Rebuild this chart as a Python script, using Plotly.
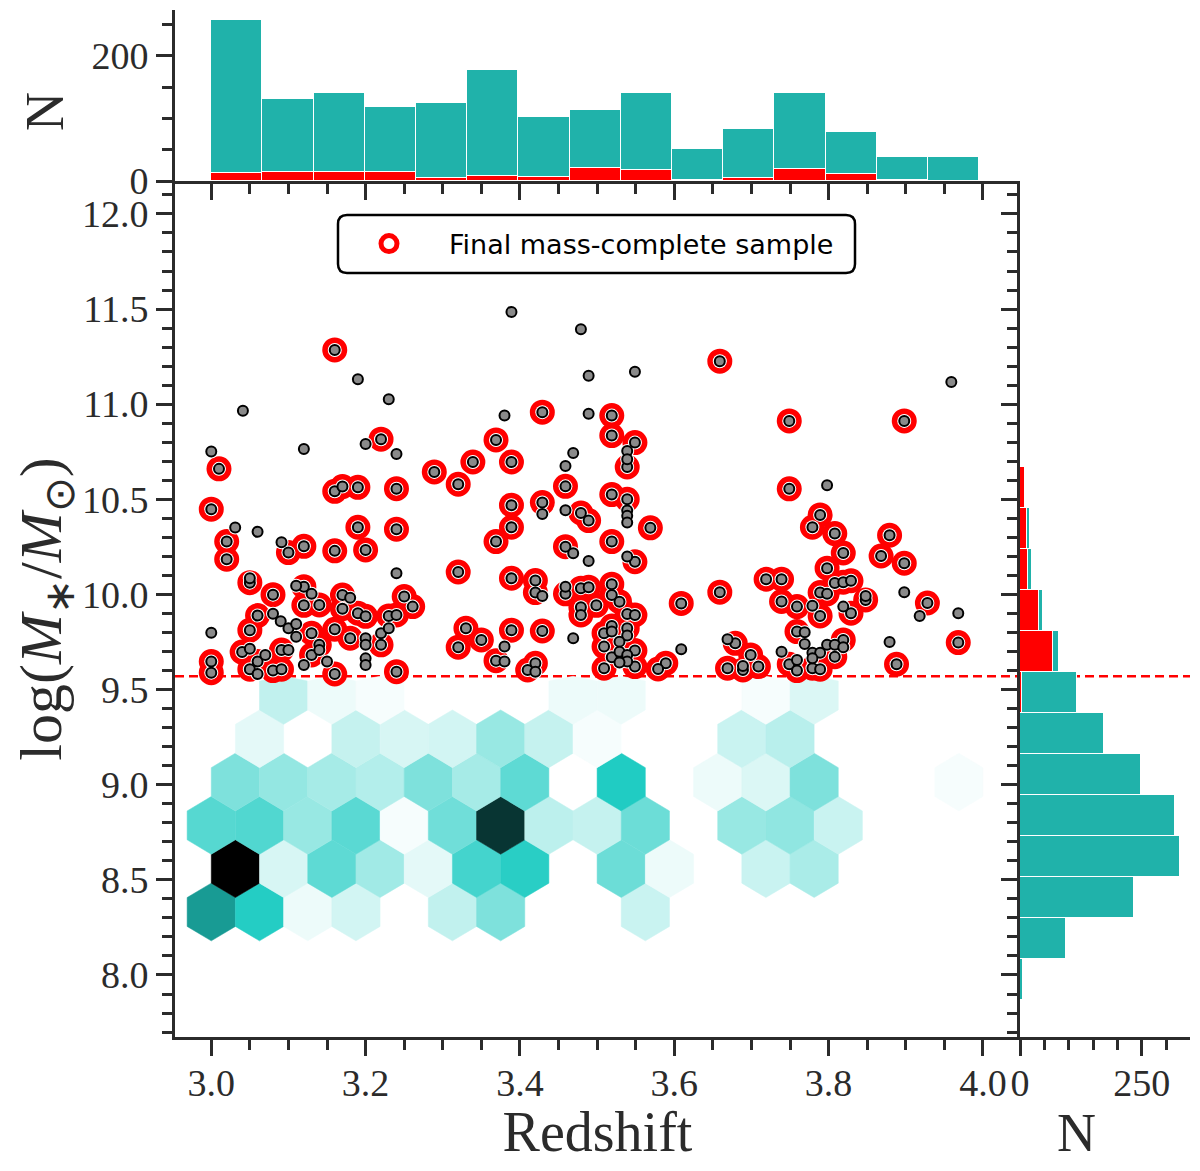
import numpy as np
import plotly.graph_objects as go
from plotly.colors import sample_colorscale

# Galaxies in the final mass-complete sample (red rings)
final_z = [3.160, 3.429, 3.519, 3.519, 3.220, 3.369, 3.010, 3.339, 3.389, 3.289,
           3.320, 3.459, 3.160, 3.170, 3.190, 3.240, 3.389, 3.429, 3.479, 3.489,
           3.519, 3.000, 3.020, 3.020, 3.100, 3.120, 3.160, 3.190, 3.200, 3.240,
           3.389, 3.369, 3.459, 3.519, 3.320, 3.050, 3.080, 3.120, 3.120, 3.140,
           3.170, 3.170, 3.190, 3.200, 3.250, 3.261, 3.230, 3.240, 3.060, 3.050,
           3.130, 3.160, 3.180, 3.220, 3.330, 3.350, 3.320, 3.389, 3.429, 3.509,
           3.519, 3.509, 3.519, 3.509, 3.459, 3.479, 3.489, 3.479, 3.479, 3.499,
           3.519, 3.519, 3.420, 3.420, 3.389, 3.000, 3.000, 3.040, 3.060, 3.050,
           3.080, 3.091, 3.091, 3.130, 3.140, 3.160, 3.240, 3.369, 3.410, 3.420,
           3.659, 3.549, 3.539, 3.749, 3.898, 3.539, 3.569, 3.549, 3.749, 3.789,
           3.779, 3.808, 3.879, 3.819, 3.868, 3.898, 3.798, 3.808, 3.819, 3.829,
           3.719, 3.739, 3.789, 3.798, 3.848, 3.928, 3.968, 3.888, 3.739, 3.759,
           3.789, 3.829, 3.759, 3.819, 3.808, 3.749, 3.759, 3.779, 3.789, 3.609,
           3.659, 3.679, 3.699, 3.669, 3.689, 3.709, 3.589, 3.579, 3.529, 3.539,
           3.549, 3.539, 3.549, 3.549]
final_mass = [11.285, 10.958, 10.940, 10.835, 10.816, 10.812, 10.660, 10.696, 10.696, 10.644,
              10.579, 10.568, 10.542, 10.567, 10.563, 10.556, 10.469, 10.483, 10.428, 10.388,
              10.525, 10.448, 10.278, 10.185, 10.220, 10.253, 10.229, 10.353, 10.234, 10.343,
              10.353, 10.278, 10.251, 10.278, 10.118, 10.062, 9.999, 10.041, 9.943, 9.945,
              9.997, 9.925, 9.901, 9.885, 9.989, 9.936, 9.887, 9.892, 9.889, 9.812,
              9.796, 9.817, 9.770, 9.735, 9.822, 9.761, 9.723, 9.812, 9.808, 9.796,
              9.834, 9.726, 9.670, 9.612, 10.003, 10.033, 10.038, 9.933, 9.892, 9.943,
              10.054, 9.997, 10.073, 10.010, 10.085, 9.647, 9.589, 9.697, 9.647, 9.607,
              9.600, 9.708, 9.607, 9.682, 9.735, 9.582, 9.594, 9.652, 9.603, 9.638,
              11.226, 10.798, 10.670, 10.912, 10.912, 10.500, 10.350, 10.172, 10.555, 10.418,
              10.353, 10.320, 10.311, 10.218, 10.202, 10.164, 10.138, 10.060, 10.064, 10.072,
              10.080, 10.080, 10.010, 10.003, 9.971, 9.955, 9.747, 9.633, 9.963, 9.936,
              9.887, 9.901, 9.805, 9.761, 9.673, 9.633, 9.600, 9.612, 9.607, 9.953,
              10.012, 9.743, 9.682, 9.612, 9.603, 9.621, 9.638, 9.608, 9.962, 9.897,
              9.892, 9.822, 9.705, 9.621]

# Other galaxies above the limit (grey points only)
other_z = [3.389, 3.479, 3.190, 3.489, 3.230, 3.041, 3.380, 3.489, 3.200, 3.000,
           3.120, 3.240, 3.469, 3.459, 3.429, 3.459, 3.031, 3.060, 3.091, 3.469,
           3.489, 3.240, 3.050, 3.110, 3.130, 3.180, 3.080, 3.090, 3.100, 3.110,
           3.110, 3.200, 3.200, 3.220, 3.230, 3.000, 3.380, 3.469, 3.459, 3.429,
           3.050, 3.070, 3.060, 3.100, 3.120, 3.140, 3.150, 3.200, 3.200, 3.380,
           3.420, 3.549, 3.959, 3.539, 3.539, 3.539, 3.539, 3.539, 3.539, 3.798,
           3.848, 3.898, 3.918, 3.968, 3.879, 3.779, 3.819, 3.769, 3.769, 3.779,
           3.789, 3.798, 3.808, 3.819, 3.739, 3.759, 3.779, 3.609, 3.669, 3.689,
           3.519, 3.539, 3.529, 3.529, 3.539, 3.539, 3.529]
other_mass = [11.485, 11.394, 11.131, 11.150, 11.026, 10.966, 10.940, 10.950, 10.791, 10.751,
              10.765, 10.738, 10.744, 10.675, 10.423, 10.443, 10.352, 10.329, 10.274, 10.216,
              10.176, 10.111, 10.085, 10.046, 10.003, 9.983, 9.899, 9.859, 9.822, 9.845,
              9.778, 9.770, 9.735, 9.796, 9.822, 9.799, 9.726, 9.770, 10.041, 9.992,
              9.715, 9.682, 9.582, 9.708, 9.629, 9.708, 9.647, 9.664, 9.629, 9.647,
              9.594, 11.171, 11.117, 10.754, 10.710, 10.441, 10.413, 10.378, 10.199, 10.574,
              9.992, 10.012, 9.887, 9.901, 9.750, 9.940, 9.936, 9.801, 9.740, 9.694,
              9.694, 9.735, 9.735, 9.723, 9.699, 9.656, 9.664, 9.712, 9.765, 9.624,
              9.805, 9.784, 9.752, 9.699, 9.682, 9.647, 9.642]

mass_limit = 9.57

# hexbin cells below the mass limit (row, column in the hex grid, counts)
hex_row = [0] * 7 + [1] * 11 + [2] * 13 + [3] * 12 + [4] * 9 + [5] * 7
hex_col = [0, 1, 2, 3, 5, 6, 9,
           0, 1, 2, 3, 4, 5, 6, 8, 9, 11, 12,
           0, 1, 2, 3, 4, 5, 6, 7, 8, 9, 11, 12, 13,
           0, 1, 2, 3, 4, 5, 6, 8, 10, 11, 12, 15,
           1, 3, 4, 5, 6, 7, 8, 11, 12,
           1, 2, 3, 7, 8, 11, 12]
hex_count = [62, 49, 4, 10, 14, 29, 12,
             100, 9, 36, 21, 6, 42, 48, 33, 4, 12, 19,
             38, 39, 23, 37, 2, 32, 87, 15, 13, 33, 23, 25, 12,
             29, 24, 20, 17, 29, 20, 36, 50, 4, 8, 29, 2,
             6, 13, 9, 10, 23, 13, 2, 12, 16,
             14, 4, 2, 4, 4, 2, 8]
hex_x0, hex_dx = 3.0, 0.0625
hex_y0, hex_dy = 8.331, 0.2276

# redshift histogram
z_edges = np.linspace(3.0, 3.995, 16)
n_z_all = [257, 131, 141, 118, 125, 178, 102, 113, 140, 51, 83, 140, 78, 38, 38]
n_z_final = [12, 14, 14, 14, 4, 8, 7, 21, 17, 2, 4, 19, 11, 2, 0]

# mass histogram
m_edges = np.linspace(7.869, 11.1015, 16)
n_m_all = [6, 94, 233, 328, 319, 248, 172, 118, 80, 47, 25, 20, 10, 3, 0]
n_m_final = [0, 0, 0, 0, 0, 0, 0, 5, 68, 38, 17, 14, 10, 3, 0]

teal = '#20b2aa'
ink = '#2b2b2b'
serif = 'Liberation Serif'

# the page adds an 8px body margin, so the figure is a little smaller than the window
W, H = 1184, 1155


def fx(px):
    return (px - 8) / W


def fy(py):
    return 1 - (py - 8) / H


fig = go.Figure()

# hexbin
cmap = [[0, '#ffffff'], [0.5, '#20ccc3'], [1, '#000000']]
hex_colors = sample_colorscale(cmap, [n / max(hex_count) for n in hex_count])
for r, c, col in zip(hex_row, hex_col, hex_colors):
    cx = hex_x0 + (c + 0.5 * (r % 2)) * hex_dx
    cy = hex_y0 + r * hex_dy
    vx = cx + hex_dx * np.array([0.5, 0.5, 0, -0.5, -0.5, 0, 0.5])
    vy = cy + 2 * hex_dy * np.array([-1/6, 1/6, 1/3, 1/6, -1/6, -1/3, -1/6])
    vy = np.minimum(vy, mass_limit)
    fig.add_trace(go.Scatter(x=vx, y=vy, mode='lines', fill='toself', fillcolor=col,
                             line=dict(color=col, width=0.5), hoverinfo='skip',
                             showlegend=False))

all_z = final_z + other_z
all_mass = final_mass + other_mass

fig.add_trace(go.Scatter(x=final_z, y=final_mass, mode='markers',
                         name='Final mass-complete sample',
                         marker=dict(symbol='circle-open', size=19, color='red',
                                     line=dict(color='red', width=6))))
fig.add_trace(go.Scatter(x=all_z, y=all_mass, mode='markers', showlegend=False,
                         marker=dict(size=14, color='white', line=dict(width=0))))
fig.add_trace(go.Scatter(x=all_z, y=all_mass, mode='markers', showlegend=False,
                         marker=dict(size=10, color='#8a8a8a', line=dict(color='black', width=2))))

# top histogram (stacked: final sample + rest)
z_c = 0.5 * (z_edges[1:] + z_edges[:-1])
z_w = z_edges[1] - z_edges[0]
fig.add_trace(go.Bar(x=z_c, y=n_z_final, width=z_w, xaxis='x2', yaxis='y2', showlegend=False,
                     marker=dict(color='red', line=dict(color='white', width=1.5))))
fig.add_trace(go.Bar(x=z_c, y=np.array(n_z_all) - np.array(n_z_final), width=z_w,
                     xaxis='x2', yaxis='y2', showlegend=False,
                     marker=dict(color=teal, line=dict(color='white', width=1.5))))

# right histogram
m_c = 0.5 * (m_edges[1:] + m_edges[:-1])
m_w = m_edges[1] - m_edges[0]
fig.add_trace(go.Bar(y=m_c, x=n_m_final, width=m_w, orientation='h', xaxis='x3', yaxis='y3',
                     showlegend=False,
                     marker=dict(color='red', line=dict(color='white', width=1.5))))
fig.add_trace(go.Bar(y=m_c, x=np.array(n_m_all) - np.array(n_m_final), width=m_w,
                     orientation='h', xaxis='x3', yaxis='y3', showlegend=False,
                     marker=dict(color=teal, line=dict(color='white', width=1.5))))

# layout
xd_main = [fx(175), fx(1020)]
xd_right = [fx(1020), fx(1190)]
yd_main = [fy(1037), fy(181)]
yd_top = [fy(181), fy(10)]
z_range = [2.953, 4.048]
m_range = [7.674, 12.173]

tickfont = dict(family=serif, size=38, color=ink)


def axis(**kw):
    d = dict(showline=True, linecolor=ink, linewidth=3, ticks='outside', ticklen=16,
             tickwidth=3, tickcolor=ink, showgrid=False, zeroline=False,
             tickfont=tickfont, layer='above traces', automargin=False)
    d.update(kw)
    return d


minor_z = dict(dtick=0.05, ticks='outside', ticklen=10, tickwidth=2.5, tickcolor=ink)
minor_m = dict(dtick=0.1, ticks='outside', ticklen=10, tickwidth=2.5, tickcolor=ink)

fig.update_layout(
    width=W, height=H, autosize=False,
    margin=dict(l=0, r=0, t=0, b=0, autoexpand=False),
    paper_bgcolor='white', plot_bgcolor='white',
    barmode='stack', bargap=0,
    xaxis=axis(domain=xd_main, anchor='y', range=z_range, tick0=3.0, dtick=0.2,
               tickformat='.1f', minor=minor_z, ticklabelstandoff=-6,
               title=dict(text='Redshift', standoff=8,
                          font=dict(family=serif, size=56, color=ink))),
    yaxis=axis(domain=yd_main, anchor='x', range=m_range, tick0=8.0, dtick=0.5,
               tickformat='.1f', minor=minor_m,
               title=dict(text='log(<i>M</i><sub>∗</sub>/<i>M</i><sub>⊙</sub>)', standoff=6,
                          font=dict(family=serif, size=60, color=ink))),
    xaxis2=axis(domain=xd_main, anchor='y2', range=z_range, tick0=3.0, dtick=0.2,
                minor=minor_z, showticklabels=False),
    yaxis2=axis(domain=yd_top, anchor='x2', range=[0, 273], tick0=0, dtick=200,
                minor=dict(dtick=50, ticks='outside', ticklen=10, tickwidth=2.5, tickcolor=ink)),
    xaxis3=axis(domain=xd_right, anchor='y3', range=[0, 349], tick0=0, dtick=250,
                ticklabelstandoff=-6,
                minor=dict(dtick=50, ticks='outside', ticklen=10, tickwidth=2.5, tickcolor=ink)),
    yaxis3=axis(domain=yd_main, anchor='x3', range=m_range, tick0=8.0, dtick=0.5,
                minor=minor_m, showticklabels=False),
    legend=dict(x=fx(329), xanchor='left', y=fy(244), yanchor='middle',
                bgcolor='rgba(0,0,0,0)', borderwidth=0, itemwidth=110,
                font=dict(family='DejaVu Sans', size=27, color='black')),
)

# rounded legend frame
x0, x1 = fx(338), fx(855)
y0, y1 = fy(273), fy(215)
rx, ry = 9 / W, 9 / H
frame = (f'M {x0 + rx},{y0} L {x1 - rx},{y0} Q {x1},{y0} {x1},{y0 + ry} '
         f'L {x1},{y1 - ry} Q {x1},{y1} {x1 - rx},{y1} L {x0 + rx},{y1} '
         f'Q {x0},{y1} {x0},{y1 - ry} L {x0},{y0 + ry} Q {x0},{y0} {x0 + rx},{y0} Z')
fig.add_shape(type='path', path=frame, xref='paper', yref='paper',
              fillcolor='white', line=dict(color='black', width=2.5), layer='above')

# mass-completeness limit
fig.add_shape(type='line', xref='paper', yref='y', x0=xd_main[0], x1=xd_right[1],
              y0=mass_limit, y1=mass_limit, layer='below',
              line=dict(color='red', width=2.5, dash='9px,5px'))

fig.add_annotation(text='N', xref='paper', yref='paper', x=fx(45), y=fy(112),
                   xanchor='center', yanchor='middle', textangle=-90, showarrow=False,
                   font=dict(family=serif, size=54, color=ink))
fig.add_annotation(text='N', xref='paper', yref='paper', x=fx(1076), y=fy(1133),
                   xanchor='center', yanchor='middle', showarrow=False,
                   font=dict(family=serif, size=54, color=ink))

fig.write_html('out.html')
